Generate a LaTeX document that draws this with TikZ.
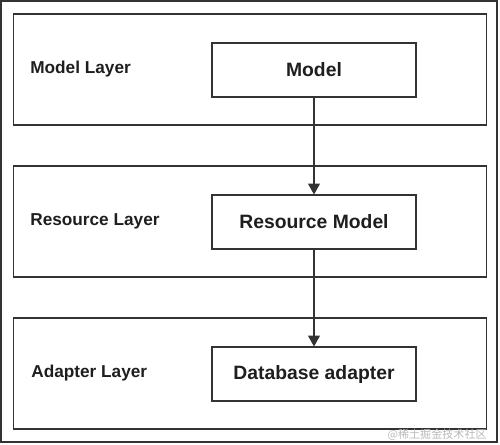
\documentclass[tikz,border=0pt]{standalone}
\usepackage{fontspec}
\setmainfont{Liberation Sans}
\newfontfamily\cjk{Noto Sans CJK SC}
\usetikzlibrary{arrows.meta}
\definecolor{linegray}{HTML}{333333}
\definecolor{textgray}{HTML}{1E1E1E}

\begin{document}
\begin{tikzpicture}[x=0.02cm,y=-0.02cm,
    layerbox/.style={draw=linegray,line width=0.6pt,minimum width=9.46cm,minimum height=2.22cm,inner sep=0pt},
    classbox/.style={draw=linegray,line width=0.6pt,minimum width=4.08cm,minimum height=1.08cm,inner sep=0pt,
        font=\fontsize{11}{13}\selectfont\bfseries,text=textgray},
    layerlabel/.style={anchor=west,inner sep=0pt,font=\fontsize{9.8}{12}\selectfont\bfseries,text=textgray},
    flow/.style={draw=linegray,line width=0.6pt,-{Triangle[width=6.8pt,length=6.2pt]}}]
    \useasboundingbox (0,0) rectangle (500,444);

    % Outer frame
    \node[draw=linegray,line width=0.7pt,minimum width=9.92cm,minimum height=8.82cm,inner sep=0pt] (frame) at (249,221.5) {};

    % Layers
    \node[layerbox] (modellayer) at (250,69.5) {};
    \node[layerbox] (resourcelayer) at (250,221.5) {};
    \node[layerbox] (adapterlayer) at (250,373.5) {};

    % Layer names
    \node[layerlabel] (modellabel) at (30,69) {Model Layer};
    \node[layerlabel] (resourcelabel) at (30,221) {Resource Layer};
    \node[layerlabel] (adapterlabel) at (31,373) {Adapter Layer};

    % Boxes
    \node[classbox] (model) at (314,70) {Model};
    \node[classbox] (resource) at (314,222) {Resource Model};
    \node[classbox] (adapter) at (314,374) {Database adapter};

    % Arrows
    \draw[flow] (model.south) -- (resource.north);
    \draw[flow] (resource.south) -- (adapter.north);

    % Watermark
    \node[anchor=east,inner sep=0pt,text=gray!55,font=\cjk\fontsize{6.3}{7}\selectfont] (mark) at (487,435) {@稀土掘金技术社区};
\end{tikzpicture}
\end{document}
